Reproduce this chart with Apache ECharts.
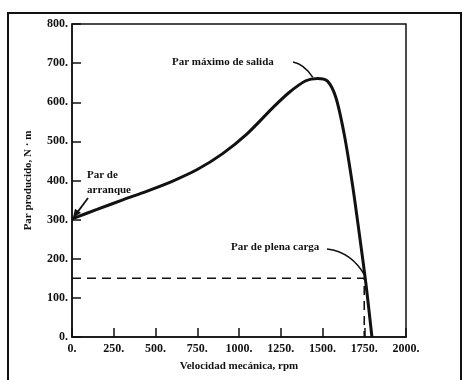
<!DOCTYPE html>
<html>
<head>
<meta charset="utf-8">
<script src="https://cdn.jsdelivr.net/npm/echarts@6/dist/echarts.min.js"></script>
<style>
html, body { margin: 0; padding: 0; background: #fff; }
#chart { width: 463px; height: 380px; }
</style>
</head>
<body>
<div id="chart"></div>
<script>
// curva par-velocidad
const speedRpm = [0, 150, 300, 450, 600, 750, 900, 1050, 1200, 1300, 1400, 1470, 1530, 1580, 1630, 1680, 1720, 1760, 1796]
const torqueNm = [302, 326, 350, 373, 398, 428, 468, 520, 585, 625, 655, 661, 654, 612, 518, 388, 265, 136, 0]

// par de plena carga (lineas de trazos)
const fullLoadRpm = 1750
const fullLoadTorque = 150
const startTorque = 302
const maxPoint = [1460, 661]

const xTicks = [0, 250, 500, 750, 1000, 1250, 1500, 1750, 2000]
const yTicks = [0, 100, 200, 300, 400, 500, 600, 700, 800]

const font = 'Liberation Serif'

let dom = echarts.init(document.getElementById('chart'))

let option = {
    animation: false,
    grid: {
        left: 72,
        top: 24,
        right: 57,
        bottom: 43,
        show: true,
        borderColor: '#111',
        borderWidth: 1.5
    },
    xAxis: {
        type: 'value',
        min: xTicks[0],
        max: xTicks[xTicks.length - 1],
        interval: 250,
        name: 'Velocidad mecánica, rpm',
        nameLocation: 'middle',
        nameGap: 24,
        nameTextStyle: { color: '#111', fontFamily: font, fontWeight: 'bold', fontSize: 11 },
        axisLine: { lineStyle: { color: '#111', width: 1.5 } },
        axisTick: { inside: true, length: 9, lineStyle: { color: '#111', width: 1.5 } },
        axisLabel: {
            color: '#111', fontFamily: font, fontWeight: 'bold', fontSize: 12, margin: 6,
            formatter: v => v + '.'
        },
        splitLine: { show: false }
    },
    yAxis: {
        type: 'value',
        min: yTicks[0],
        max: yTicks[yTicks.length - 1],
        interval: 100,
        name: 'Par producido, N · m',
        nameLocation: 'middle',
        nameGap: 38,
        nameTextStyle: { color: '#111', fontFamily: font, fontWeight: 'bold', fontSize: 11 },
        axisLine: { lineStyle: { color: '#111', width: 1.5 } },
        axisTick: { inside: true, length: 9, lineStyle: { color: '#111', width: 1.5 } },
        axisLabel: {
            color: '#111', fontFamily: font, fontWeight: 'bold', fontSize: 12, margin: 4,
            formatter: v => v + '.'
        },
        splitLine: { show: false }
    },
    series: [
        {
            type: 'line',
            data: speedRpm.map((x, i) => [x, torqueNm[i]]),
            smooth: 0.3,
            symbol: 'none',
            lineStyle: { color: '#111', width: 3 }
        },
        {
            type: 'line',
            data: [[0, fullLoadTorque], [fullLoadRpm, fullLoadTorque], [fullLoadRpm, 0]],
            symbol: 'none',
            lineStyle: { color: '#111', width: 1.6, type: [9, 6] }
        }
    ]
}
dom.setOption(option)

// anotaciones con flechas, colocadas respecto a los puntos de la curva
let pMax = dom.convertToPixel({ gridIndex: 0 }, maxPoint)
let pStart = dom.convertToPixel({ gridIndex: 0 }, [0, startTorque])
let pFull = dom.convertToPixel({ gridIndex: 0 }, [fullLoadRpm, fullLoadTorque])

const txt = (x, y, s, align) => ({
    type: 'text', x: x, y: y,
    style: { text: s, fill: '#111', font: 'bold 11px "' + font + '"', textAlign: align || 'left', textVerticalAlign: 'middle' }
})

let graphic = [
    // marco exterior
    {
        type: 'rect',
        shape: { x: 8, y: 13, width: 453, height: 380 },
        style: { fill: 'none', stroke: '#111', lineWidth: 2 }
    },
    txt(172, 62, 'Par máximo de salida'),
    {
        type: 'bezierCurve',
        shape: { x1: 293, y1: 62, cpx1: 304, cpy1: 64, x2: pMax[0] - 3, y2: pMax[1] - 1 },
        style: { stroke: '#111', lineWidth: 1.5, fill: 'none' }
    },
    txt(87, 175, 'Par de'),
    txt(87, 190, 'arranque'),
    {
        type: 'line',
        shape: { x1: 88, y1: 198, x2: pStart[0] + 2, y2: pStart[1] - 2 },
        style: { stroke: '#111', lineWidth: 1.8 }
    },
    {
        type: 'polygon',
        shape: { points: [[pStart[0] + 1, pStart[1] - 1], [pStart[0] + 3, pStart[1] - 10], [pStart[0] + 9, pStart[1] - 6]] },
        style: { fill: '#111' }
    },
    txt(231, 247, 'Par de plena carga'),
    {
        type: 'bezierCurve',
        shape: { x1: 327, y1: 249, cpx1: 352, cpy1: 252, x2: pFull[0] + 1, y2: pFull[1] - 2 },
        style: { stroke: '#111', lineWidth: 1.5, fill: 'none' }
    }
]
dom.setOption({ graphic: graphic })
</script>
</body>
</html>
